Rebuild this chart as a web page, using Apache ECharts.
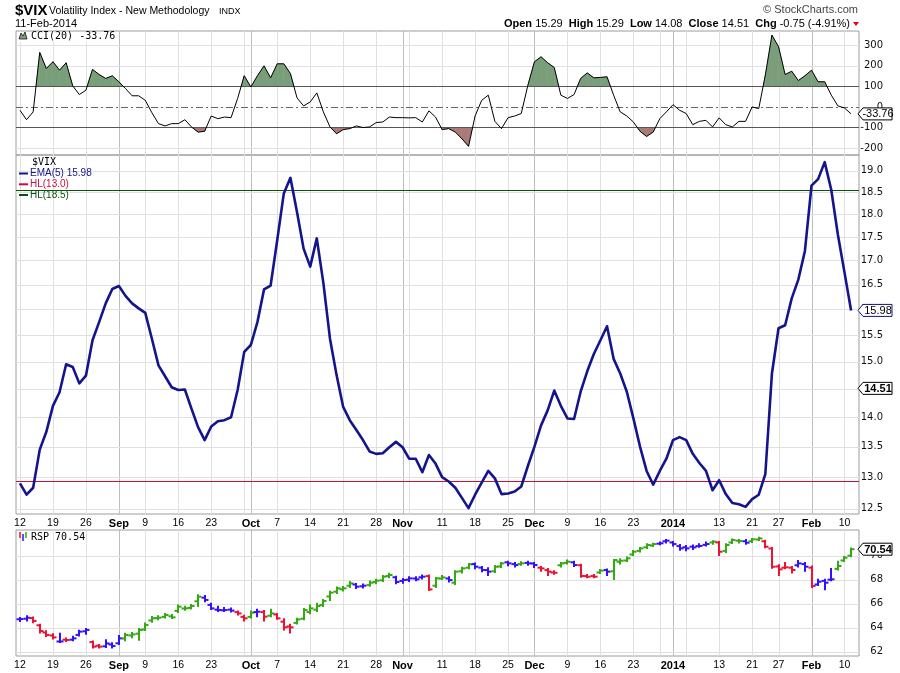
<!DOCTYPE html>
<html><head><meta charset="utf-8">
<script src="https://cdn.jsdelivr.net/npm/echarts@6/dist/echarts.min.js"></script>
<style>html,body{margin:0;padding:0;background:#fff}#c{width:900px;height:673px}</style>
</head><body><div id="c"></div>
<script>
// ---------- DATA ----------
const dates = [
'2013-08-12','2013-08-13','2013-08-14','2013-08-15','2013-08-16',
'2013-08-19','2013-08-20','2013-08-21','2013-08-22','2013-08-23',
'2013-08-26','2013-08-27','2013-08-28','2013-08-29','2013-08-30',
'2013-09-03','2013-09-04','2013-09-05','2013-09-06',
'2013-09-09','2013-09-10','2013-09-11','2013-09-12','2013-09-13',
'2013-09-16','2013-09-17','2013-09-18','2013-09-19','2013-09-20',
'2013-09-23','2013-09-24','2013-09-25','2013-09-26','2013-09-27',
'2013-09-30',
'2013-10-01','2013-10-02','2013-10-03','2013-10-04',
'2013-10-07','2013-10-08','2013-10-09','2013-10-10','2013-10-11',
'2013-10-14','2013-10-15','2013-10-16','2013-10-17','2013-10-18',
'2013-10-21','2013-10-22','2013-10-23','2013-10-24','2013-10-25',
'2013-10-28','2013-10-29','2013-10-30','2013-10-31',
'2013-11-01',
'2013-11-04','2013-11-05','2013-11-06','2013-11-07','2013-11-08',
'2013-11-11','2013-11-12','2013-11-13','2013-11-14','2013-11-15',
'2013-11-18','2013-11-19','2013-11-20','2013-11-21','2013-11-22',
'2013-11-25','2013-11-26','2013-11-27','2013-11-29',
'2013-12-02','2013-12-03','2013-12-04','2013-12-05','2013-12-06',
'2013-12-09','2013-12-10','2013-12-11','2013-12-12','2013-12-13',
'2013-12-16','2013-12-17','2013-12-18','2013-12-19','2013-12-20',
'2013-12-23','2013-12-24','2013-12-26','2013-12-27',
'2013-12-30','2013-12-31',
'2014-01-02','2014-01-03',
'2014-01-06','2014-01-07','2014-01-08','2014-01-09','2014-01-10',
'2014-01-13','2014-01-14','2014-01-15','2014-01-16','2014-01-17',
'2014-01-21','2014-01-22','2014-01-23','2014-01-24',
'2014-01-27','2014-01-28','2014-01-29','2014-01-30','2014-01-31',
'2014-02-03','2014-02-04','2014-02-05','2014-02-06','2014-02-07',
'2014-02-10','2014-02-11'
];

const tickLabels = [
['2013-08-12','12'],['2013-08-19','19'],['2013-08-26','26'],['2013-09-03','Sep'],
['2013-09-09','9'],['2013-09-16','16'],['2013-09-23','23'],['2013-10-01','Oct'],
['2013-10-07','7'],['2013-10-14','14'],['2013-10-21','21'],['2013-10-28','28'],
['2013-11-01','Nov'],['2013-11-11','11'],['2013-11-18','18'],['2013-11-25','25'],
['2013-12-02','Dec'],['2013-12-09','9'],['2013-12-16','16'],['2013-12-23','23'],
['2014-01-02','2014'],['2014-01-13','13'],['2014-01-21','21'],['2014-01-27','27'],
['2014-02-03','Feb'],['2014-02-10','10']
];
const monthStarts = ['2013-09-03','2013-10-01','2013-11-01','2013-12-02','2014-01-02','2014-02-03'];
const weekStarts = ['2013-08-12','2013-08-19','2013-08-26','2013-09-09','2013-09-16','2013-09-23',
'2013-09-30','2013-10-07','2013-10-14','2013-10-21','2013-10-28','2013-11-04','2013-11-11',
'2013-11-18','2013-11-25','2013-12-09','2013-12-16','2013-12-23','2013-12-30','2014-01-06',
'2014-01-13','2014-01-21','2014-01-27','2014-02-10'];

const emaValues = [
12.9,12.72,12.83,13.45,13.75,14.2,14.44,14.95,14.9,14.6,
14.74,15.4,15.75,16.12,16.41,16.47,16.27,16.12,16.02,15.93,
15.43,14.93,14.73,14.53,14.48,14.49,14.15,13.83,13.61,13.84,
13.93,13.95,14.0,14.48,15.18,15.31,15.75,16.4,16.48,17.43,
18.47,18.83,18.05,17.25,16.87,17.47,16.53,15.43,14.75,14.18,
13.95,13.78,13.61,13.42,13.38,13.39,13.49,13.58,13.49,13.3,
13.3,13.08,13.36,13.22,13.0,12.93,
12.83,12.67,12.51,12.72,12.91,13.1,12.98,12.73,12.74,12.77,
12.85,13.18,13.5,13.86,14.12,14.47,14.2,13.98,13.97,14.45,
14.82,15.14,15.4,15.67,15.05,14.78,14.45,13.98,13.5,13.1,
12.88,13.1,13.3,13.61,13.66,13.61,13.38,13.23,13.1,12.79,
12.95,12.73,12.59,12.57,12.53,12.65,12.72,13.05,14.78,15.63,
15.69,16.22,16.6,17.2,18.65,18.8,19.2,18.55,17.55,16.75,15.98
];

const cciValues = [
-16,-62,-24,264,186,219,178,214,102,60,
81,182,157,138,151,122,89,54,54,32,
-28,-81,-92,-81,-81,-62,-97,-122,-118,-44,
-57,-49,-52,41,151,97,151,199,141,209,
209,162,44,5,24,68,-24,-97,-130,-110,
-105,-92,-100,-97,-76,-73,-49,-52,-52,-53,
-52,-73,-19,-49,-110,-105,
-122,-154,-191,-44,32,57,-70,-105,-52,-44,
-32,105,219,243,214,191,57,41,60,138,
165,141,143,146,57,-24,-44,-73,-118,-143,
-122,-57,-24,11,-16,-32,-86,-70,-65,-97,
-53,-86,-97,-70,-70,0,-8,154,348,292,
157,173,128,151,178,122,122,57,5,-5,-33.76
];

// RSP daily bars: [open, high, low, close]
const rspOHLC = [
[64.7,64.8,64.55,64.72],[64.75,64.95,64.6,64.83],[64.8,64.85,64.45,64.56],[64.2,64.25,63.6,63.72],[63.6,63.7,63.3,63.39],
[63.35,63.45,63.1,63.19],[62.85,63.5,62.8,62.85],[63.0,63.1,62.9,62.97],[63.0,63.25,62.95,63.11],[63.4,63.75,63.35,63.67],
[63.7,63.9,63.5,63.81],[62.8,62.85,62.35,62.42],[62.5,62.55,62.35,62.42],[62.45,62.95,62.4,62.69],[62.6,62.7,62.35,62.47],
[62.7,63.3,62.65,63.11],[63.1,63.5,62.95,63.39],[63.35,63.55,63.2,63.44],[63.5,63.9,63.0,63.81],[63.85,64.35,63.8,64.22],
[64.6,64.9,64.5,64.78],[64.8,64.95,64.7,64.83],[64.9,65.15,64.85,65.06],[64.95,65.05,64.8,64.86],[65.4,65.85,65.3,65.75],
[65.6,65.75,65.5,65.61],[65.65,65.9,65.6,65.81],[66.2,66.7,65.8,66.58],[66.5,66.65,66.2,66.31],[65.9,66.0,65.55,65.61],
[65.5,65.75,65.4,65.47],[65.45,65.65,65.4,65.47],[65.5,65.6,65.35,65.42],[65.3,65.35,65.1,65.19],[64.9,65.0,64.6,64.78],
[64.9,65.35,64.85,65.25],[65.3,65.5,64.95,65.33],[65.3,65.4,64.6,64.92],[65.0,65.5,64.95,65.19],[65.1,65.15,64.75,64.78],
[64.5,64.7,63.85,64.03],[64.1,64.25,63.6,64.03],[64.4,64.75,64.35,64.69],[64.75,65.55,64.7,65.47],[65.3,65.85,65.2,65.61],
[65.5,66.0,65.4,65.81],[65.9,66.3,65.8,66.22],[66.6,67.0,66.3,66.92],[67.0,67.35,66.9,67.28],[67.2,67.4,67.1,67.28],
[67.5,67.8,67.4,67.69],[67.6,67.65,67.3,67.42],[67.45,67.6,67.35,67.5],[67.55,67.85,67.5,67.75],[67.8,68.0,67.7,67.92],
[67.95,68.3,67.9,68.25],[68.3,68.5,68.2,68.39],[68.2,68.25,67.7,67.81],[67.9,68.05,67.75,67.97],[68.0,68.2,67.9,68.11],
[68.1,68.2,67.95,68.03],[68.2,68.35,68.1,68.25],[68.3,68.35,67.15,67.19],[67.5,68.15,67.4,68.11],[68.1,68.3,68.05,68.19],
[68.1,68.2,67.85,67.97],[67.75,68.7,67.65,68.67],[68.7,69.0,68.6,68.94],[69.0,69.3,68.95,69.28],[69.3,69.35,68.95,69.08],
[69.0,69.05,68.7,68.81],[68.8,68.95,68.4,68.67],[68.7,69.15,68.65,69.08],[69.1,69.4,69.05,69.36],[69.45,69.5,69.2,69.36],
[69.3,69.4,69.1,69.22],[69.3,69.45,69.25,69.36],[69.4,69.5,69.25,69.36],[69.35,69.4,69.05,69.22],[69.0,69.05,68.75,68.94],
[68.8,68.9,68.4,68.67],[68.6,68.7,68.5,68.58],[69.2,69.4,69.1,69.36],[69.4,69.6,69.35,69.5],[69.45,69.5,69.15,69.22],
[69.2,69.25,68.25,68.31],[68.3,68.4,68.2,68.25],[68.3,68.4,68.2,68.25],[68.6,68.8,68.55,68.75],[68.8,68.85,68.4,68.67],
[68.7,69.65,68.05,69.64],[69.5,69.7,69.35,69.58],[69.6,69.85,69.55,69.78],[70.1,70.4,70.05,70.33],[70.4,70.65,70.35,70.61],
[70.7,70.95,70.65,70.89],[70.85,71.0,70.8,70.97],[71.0,71.1,70.95,71.03],[71.2,71.3,71.1,71.25],[71.1,71.15,70.85,70.97],
[70.8,70.9,70.5,70.61],[70.7,70.8,70.45,70.61],[70.75,70.85,70.55,70.69],[70.8,70.95,70.75,70.81],[70.9,71.1,70.85,70.97],
[71.1,71.2,71.0,71.17],[71.1,71.15,70.05,70.33],[70.4,70.95,70.3,70.89],[71.1,71.35,71.05,71.31],[71.25,71.3,71.1,71.22],
[71.2,71.3,71.0,71.08],[71.2,71.4,71.15,71.36],[71.35,71.5,71.3,71.44],[71.2,71.25,70.7,70.75],[70.6,70.65,69.0,69.08],
[69.1,69.2,68.4,68.86],[69.0,69.4,68.95,69.03],[69.0,69.05,68.6,68.81],[69.2,69.55,69.1,69.36],[69.3,69.4,68.75,69.08],
[69.0,69.1,67.4,67.47],[67.6,68.0,67.55,67.83],[67.9,68.0,67.2,67.75],[68.0,68.9,67.95,68.03],[68.9,69.5,68.85,69.14],
[69.6,69.9,69.55,69.83],[70.0,70.6,69.95,70.54]
];
// Elder-impulse state of each RSP bar: g = green, r = red, b = blue
const rspImpulse = ('bbrrrrbrbbbrrbbb' + 'gggggggggggg' + 'bbbbb' + 'rr' + 'gbrgrrr' + 'ggggggggg' + 'bb' +
  'gggg' + 'bbbbb' + 'rggb' + 'ggg' + 'bbb' + 'gg' + 'bb' + 'gbb' + 'rrr' + 'gg' + 'b' + 'rrr' + 'gb' +
  'ggggggg' + 'bbbbbbbb' + 'gr' + 'ggg' + 'b' + 'gg' + 'rrrrr' + 'bb' + 'r' + 'bbb' + 'ggg').split('');

const hlLow = 13.0, hlHigh = 18.5;
const vixTicks = [12.5,13.0,13.5,14.0,14.5,15.0,15.5,16.0,16.5,17.0,17.5,18.0,18.5,19.0];
const cciTicks = [-200,-100,0,100,200,300];
const cciBands = [100,-100];
const rspTicks = [62,64,66,68,70];
const vixQuote = {open:'15.29', high:'15.29', low:'14.08', close:14.51, chg:'-0.75', pct:'(-4.91%)'};
const rspLast = 70.54;

// ---------- CHART ----------
const N = dates.length;
const idxOf = d => dates.indexOf(d);
const labelMap = {};
tickLabels.forEach(([d, t]) => { labelMap[idxOf(d)] = t; });
const labelIdx = tickLabels.map(([d]) => idxOf(d));
const monthIdx = monthStarts.map(idxOf);
const monthSet = new Set(monthIdx);
const vLines = weekStarts.map(d => [idxOf(d), 0]).concat(monthIdx.map(i => [i, 1]));

const L = 16, W = 843;
const grids = [
  {left: L, top: 31, width: W, height: 124},
  {left: L, top: 155, width: W, height: 359},
  {left: L, top: 530, width: W, height: 126}
].map(g => Object.assign(g, {show: true, borderColor: '#9c9c9c', borderWidth: 1, backgroundColor: 'transparent', containLabel: false}));

const xMin = -0.6, xMax = N + 0.2;
const FX = 'Liberation Sans, Arial, sans-serif';
const FY = 'DejaVu Sans, Verdana, sans-serif';
const FM = 'DejaVu Sans Mono, monospace';

function xAxisCfg(gi, showLabels) {
  return {
    type: 'value', gridIndex: gi, min: xMin, max: xMax,
    splitLine: {show: false}, axisLine: {show: false}, axisTick: {show: false},
    axisLabel: showLabels ? {
      show: true, customValues: labelIdx, margin: 4, hideOverlap: false,
      formatter: v => {
        const i = Math.round(v);
        return monthSet.has(i) ? '{m|' + labelMap[i] + '}' : '{d|' + labelMap[i] + '}';
      },
      rich: {
        m: {fontFamily: FX, fontSize: 11, fontWeight: 'bold', color: '#000'},
        d: {fontFamily: FX, fontSize: 10.5, color: '#000'}
      }
    } : {show: false}
  };
}
function yAxisCfg(gi, min, max, ticks, fmt) {
  return {
    type: 'value', gridIndex: gi, position: 'right', min: min, max: max, scale: true,
    splitLine: {show: false}, axisLine: {show: false}, axisTick: {show: false},
    axisLabel: {customValues: ticks, align: 'right', margin: 24, fontFamily: FY, fontSize: 10,
      color: '#111', formatter: fmt}
  };
}

function vGrid(gi) {
  return {
    type: 'custom', xAxisIndex: gi, yAxisIndex: gi, silent: true, z: 1, clip: false,
    data: vLines,
    renderItem: (p, api) => {
      const cs = p.coordSys;
      const x = Math.round(api.coord([api.value(0), 0])[0]) + 0.5;
      return {type: 'line', shape: {x1: x, y1: cs.y, x2: x, y2: cs.y + cs.height},
        style: {stroke: api.value(1) ? '#bdbdbd' : '#e0e0e0', lineWidth: 1}};
    }
  };
}
function hGrid(gi, vals) {
  return {
    type: 'custom', xAxisIndex: gi, yAxisIndex: gi, silent: true, z: 1, clip: false,
    data: vals.map(v => [0, v]),
    encode: {x: 0, y: 1},
    renderItem: (p, api) => {
      const cs = p.coordSys;
      const y = Math.round(api.coord([0, api.value(1)])[1]) + 0.5;
      return {type: 'line', shape: {x1: cs.x, y1: y, x2: cs.x + cs.width, y2: y},
        style: {stroke: '#e0e0e0', lineWidth: 1}};
    }
  };
}

const impulseColor = {g: '#33aa11', r: '#ee1133', b: '#3311ff'};
const lnV = v => Math.log(v);

const option = {
  animation: false,
  grid: grids,
  xAxis: [xAxisCfg(0, false), xAxisCfg(1, true), xAxisCfg(2, true)],
  yAxis: [
    yAxisCfg(0, -233, 368, cciTicks, v => String(Math.round(v))),
    yAxisCfg(1, lnV(12.42), lnV(19.37), vixTicks.map(lnV), v => Math.exp(v).toFixed(1)),
    yAxisCfg(2, 61.64, 72.14, rspTicks, v => String(Math.round(v)))
  ],
  series: [
    vGrid(0), vGrid(1), vGrid(2),
    hGrid(0, cciTicks.filter(v => v !== 0 && cciBands.indexOf(v) < 0)),
    hGrid(1, vixTicks.map(lnV)),
    hGrid(2, rspTicks),
    { // CCI fills beyond +/-100
      type: 'custom', xAxisIndex: 0, yAxisIndex: 0, silent: true, z: 2,
      data: cciValues.map((v, i) => [i, v]),
      encode: {x: 0, y: 1},
      renderItem: (p, api) => {
        const i = p.dataIndex;
        const children = [];
        if (i < N - 1) {
          const a = cciValues[i], b = cciValues[i + 1];
          [[cciBands[0], 1, '#7a9e7a'], [cciBands[1], -1, '#a87a78']].forEach(([T, s, col]) => {
            const fa = s * (a - T), fb = s * (b - T);
            let pts = null;
            if (fa > 0 && fb > 0) pts = [[i, a], [i + 1, b], [i + 1, T], [i, T]];
            else if (fa > 0 && fb <= 0) { const t = fa / (fa - fb); pts = [[i, a], [i + t, T], [i, T]]; }
            else if (fa <= 0 && fb > 0) { const t = -fa / (fb - fa); pts = [[i + t, T], [i + 1, b], [i + 1, T]]; }
            if (pts) children.push({type: 'polygon', shape: {points: pts.map(q => api.coord(q))},
              style: {fill: col, stroke: col, lineWidth: 0.6}});
          });
        }
        return {type: 'group', children: children};
      }
    },
    {
      name: 'CCI(20)', type: 'line', xAxisIndex: 0, yAxisIndex: 0, z: 5,
      data: cciValues.map((v, i) => [i, v]), showSymbol: false, symbol: 'none',
      lineStyle: {color: '#000', width: 1}, silent: true,
      markLine: {
        silent: true, symbol: ['none', 'none'], label: {show: false}, z: 3, animation: false,
        data: [
          {yAxis: cciBands[0], lineStyle: {color: '#555', width: 1, type: 'solid'}},
          {yAxis: cciBands[1], lineStyle: {color: '#555', width: 1, type: 'solid'}},
          {yAxis: 0, lineStyle: {color: '#666', width: 1, type: [7, 3, 2, 3]}}
        ]
      }
    },
    {
      name: 'EMA(5)', type: 'line', xAxisIndex: 1, yAxisIndex: 1, z: 10,
      data: emaValues.map((v, i) => [i, lnV(v)]), showSymbol: false, symbol: 'none',
      lineStyle: {color: '#14148c', width: 2.6, join: 'round'}, silent: true,
      markLine: {
        silent: true, symbol: ['none', 'none'], label: {show: false}, z: 3, animation: false,
        data: [
          {yAxis: lnV(hlLow), lineStyle: {color: '#c8103a', width: 1.2, type: 'solid'}},
          {yAxis: lnV(hlHigh), lineStyle: {color: '#0a520a', width: 1.2, type: 'solid'}}
        ]
      }
    },
    {
      name: 'RSP', type: 'custom', xAxisIndex: 2, yAxisIndex: 2, z: 5, silent: true,
      data: rspOHLC.map((r, i) => [i, r[0], r[1], r[2], r[3]]),
      encode: {x: 0, y: [1, 2, 3, 4]},
      renderItem: (p, api) => {
        const i = api.value(0);
        const col = impulseColor[rspImpulse[i]];
        const ph = api.coord([i, api.value(2)]), pl = api.coord([i, api.value(3)]);
        const po = api.coord([i, api.value(1)]), pc = api.coord([i, api.value(4)]);
        const x = Math.round(ph[0]);
        return {type: 'group', children: [
          {type: 'line', shape: {x1: x, y1: ph[1] - 1, x2: x, y2: pl[1] + 1}, style: {stroke: col, lineWidth: 2}},
          {type: 'line', shape: {x1: x - 3.5, y1: po[1], x2: x, y2: po[1]}, style: {stroke: col, lineWidth: 2}},
          {type: 'line', shape: {x1: x, y1: pc[1], x2: x + 3.5, y2: pc[1]}, style: {stroke: col, lineWidth: 2}}
        ]};
      }
    }
  ]
};

const chart = echarts.init(document.getElementById('c'));
chart.setOption(option);

// ---------- text, legends and value tags ----------
function tag(y, text, border, bold, color) {
  const x0 = L + W - 1;
  return {type: 'group', z: 100, children: [
    {type: 'polygon', z: 100, shape: {points: [[x0, y], [x0 + 5, y - 6], [x0 + 34, y - 6], [x0 + 34, y + 6], [x0 + 5, y + 6]]},
      style: {fill: '#fff', stroke: border, lineWidth: 1}},
    {type: 'text', z: 101, x: x0 + 20, y: y + 0.5, style: {text: text, fill: color,
      font: (bold ? 'bold ' : '') + '11px ' + FX, align: 'center', verticalAlign: 'middle'}}
  ]};
}
const yCci = chart.convertToPixel({gridIndex: 0}, [N - 1, cciValues[N - 1]])[1];
const yEma = chart.convertToPixel({gridIndex: 1}, [N - 1, lnV(emaValues[N - 1])])[1];
const yClose = chart.convertToPixel({gridIndex: 1}, [N - 1, lnV(vixQuote.close)])[1];
const yRsp = chart.convertToPixel({gridIndex: 2}, [N - 1, rspLast])[1];

const txt = (x, y, text, font, fill, align) => ({type: 'text', z: 50, x: x, y: y,
  style: {text: text, font: font, fill: fill || '#000', align: align || 'left', verticalAlign: 'middle'}});

chart.setOption({graphic: [
  txt(15, 11, '$VIX', 'bold 15px ' + FX),
  txt(49, 11, 'Volatility Index - New Methodology', '10.5px ' + FX),
  txt(219, 11.5, 'INDX', '9px ' + FX),
  txt(15, 24, '11-Feb-2014', '11px ' + FX),
  txt(858, 10, '\u00A9 StockCharts.com', '11px ' + FX, '#444', 'right'),
  {type: 'text', z: 50, x: 850, y: 24, style: {
    text: '{b|Open} ' + vixQuote.open + '  {b|High} ' + vixQuote.high + '  {b|Low} ' + vixQuote.low +
      '  {b|Close} ' + vixQuote.close.toFixed(2) + '  {b|Chg} ' + vixQuote.chg + ' ' + vixQuote.pct,
    font: '11px ' + FX, fill: '#000', align: 'right', verticalAlign: 'middle',
    rich: {b: {fontWeight: 'bold', fontSize: 11, fontFamily: FX}}}},
  {type: 'polygon', z: 50, shape: {points: [[853, 22], [859, 22], [856, 26]]}, style: {fill: '#e8001c'}},
  // CCI legend
  {type: 'rect', z: 49, shape: {x: 17, y: 32, width: 100, height: 10}, style: {fill: '#fff'}},
  {type: 'polygon', z: 50, shape: {points: [[19, 39], [21, 33], [23, 36], [25, 32], [27, 39]]},
    style: {fill: '#7a9e7a', stroke: '#000', lineWidth: 0.7}},
  txt(31, 36.5, 'CCI(20) ' + cciValues[N - 1].toFixed(2), '10px ' + FM),
  // VIX legend
  txt(32, 162.5, '$VIX', '10px ' + FM),
  {type: 'line', z: 50, shape: {x1: 19, y1: 173.5, x2: 28, y2: 173.5}, style: {stroke: '#14148c', lineWidth: 2}},
  txt(30, 173.5, 'EMA(5) ' + emaValues[N - 1].toFixed(2), '10px ' + FX, '#14148c'),
  {type: 'line', z: 50, shape: {x1: 19, y1: 184.3, x2: 28, y2: 184.3}, style: {stroke: '#c8103a', lineWidth: 2}},
  txt(30, 184.3, 'HL(' + hlLow.toFixed(1) + ')', '10px ' + FX, '#c8103a'),
  {type: 'line', z: 50, shape: {x1: 19, y1: 195, x2: 28, y2: 195}, style: {stroke: '#0a520a', lineWidth: 2}},
  txt(30, 195, 'HL(' + hlHigh.toFixed(1) + ')', '10px ' + FX, '#0a520a'),
  // RSP legend
  {type: 'line', z: 50, shape: {x1: 20, y1: 532, x2: 20, y2: 538}, style: {stroke: '#ee1133', lineWidth: 1.5}},
  {type: 'line', z: 50, shape: {x1: 23, y1: 534, x2: 23, y2: 541}, style: {stroke: '#3311ff', lineWidth: 1.5}},
  {type: 'line', z: 50, shape: {x1: 26, y1: 532, x2: 26, y2: 538}, style: {stroke: '#33aa11', lineWidth: 1.5}},
  txt(31, 537, 'RSP ' + rspLast.toFixed(2), '10px ' + FM),
  // value tags
  tag(yCci, cciValues[N - 1].toFixed(2), '#000', false, '#000'),
  tag(yEma, emaValues[N - 1].toFixed(2), '#14148c', false, '#000'),
  tag(yClose, vixQuote.close.toFixed(2), '#000', true, '#000'),
  tag(yRsp, rspLast.toFixed(2), '#000', true, '#000')
]});
</script>
</body></html>
